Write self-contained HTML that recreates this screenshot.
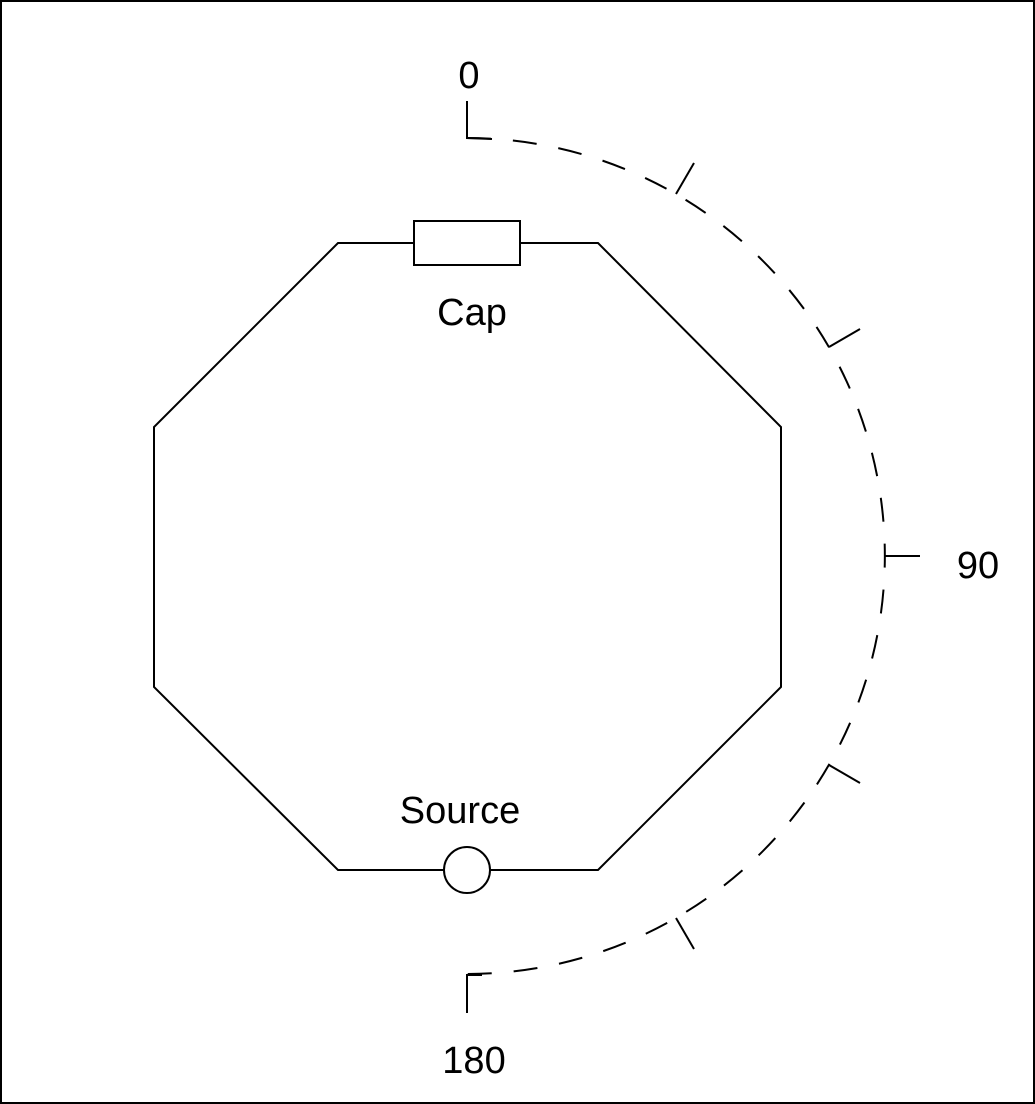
<!DOCTYPE html>
<html><head><meta charset="utf-8"><style>
html,body{margin:0;padding:0;background:#fff;}
svg{display:block;}
text{font-family:"Liberation Sans",sans-serif;font-size:38px;fill:#000;}
</style></head><body>
<svg width="1035" height="1104" viewBox="0 0 1035 1104" xmlns="http://www.w3.org/2000/svg">
<rect x="1" y="1" width="1033" height="1102" fill="#fff" stroke="#000" stroke-width="2"/>
<g fill="none" stroke="#000" stroke-width="2">
<polyline points="414,243 338,243 154,427 154,687 338,870 444,870"/>
<polyline points="520,243 598,243 781,427 781,687 598,870 490,870"/>
<rect x="414" y="221" width="106" height="44"/>
<circle cx="467" cy="870" r="23"/>
<path d="M467,138 A418,418 0 0 1 467,974" stroke-dasharray="24,22"/>
<polyline points="467,101 467,138 492,139"/>
<polyline points="467,1013 467,975 482,975"/>
<line x1="676" y1="194" x2="694" y2="163"/>
<line x1="829" y1="347" x2="860" y2="329"/>
<line x1="885" y1="556" x2="920" y2="556"/>
<line x1="829" y1="765" x2="860" y2="783"/>
<line x1="676" y1="918" x2="694" y2="949"/>
</g>
<text x="469" y="88" text-anchor="middle">0</text>
<text x="472" y="325" text-anchor="middle">Cap</text>
<text x="460" y="823" text-anchor="middle">Source</text>
<text x="978" y="578" text-anchor="middle">90</text>
<text x="474" y="1073" text-anchor="middle">180</text>
</svg>
</body></html>
